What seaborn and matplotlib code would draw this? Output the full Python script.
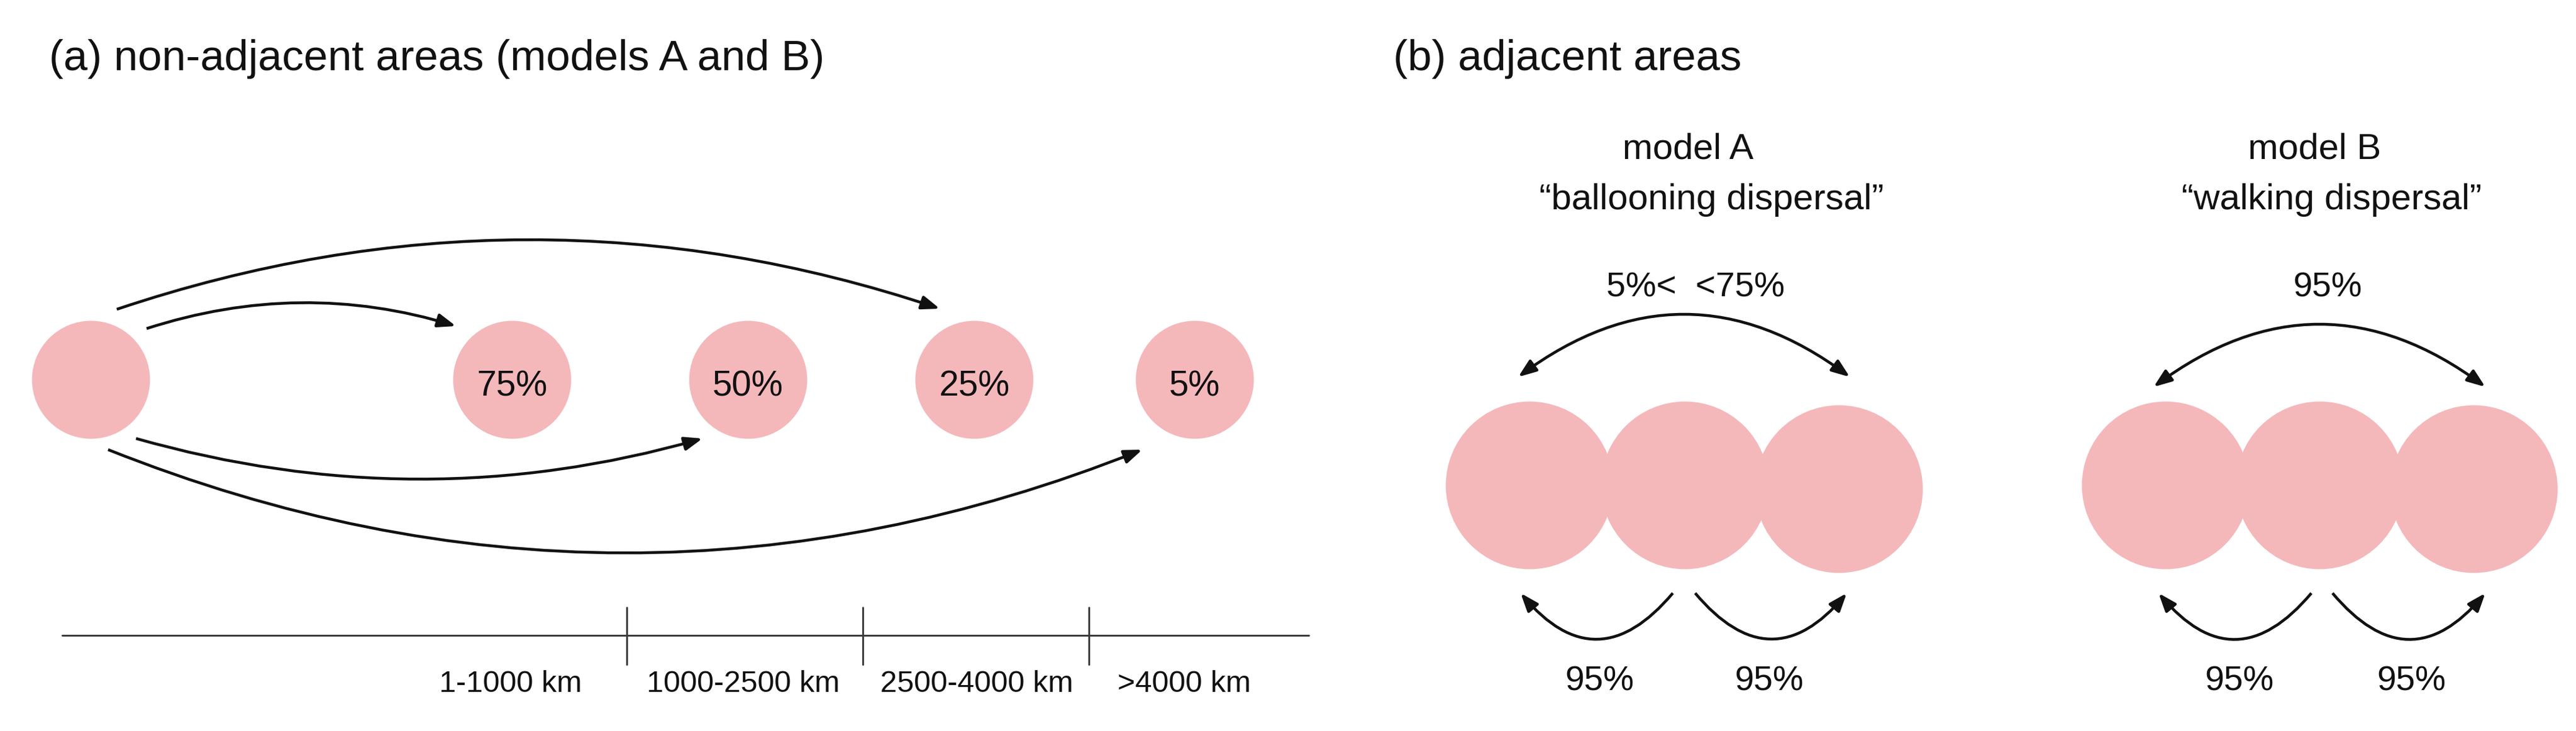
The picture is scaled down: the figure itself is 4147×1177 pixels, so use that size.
import numpy as np
import pandas as pd
import matplotlib
matplotlib.use("Agg")
import matplotlib.pyplot as plt
import seaborn as sns
from matplotlib.patches import FancyArrowPatch, ArrowStyle

# ---------------- data ----------------
panel_titles = ["(a) non-adjacent areas (models A and B)", "(b) adjacent areas"]
dispersal_pct = ["75%", "50%", "25%", "5%"]
distance_classes = ["1-1000 km", "1000-2500 km", "2500-4000 km", ">4000 km"]
model_names = ["model A", "model B"]
model_desc = ["\u201cballooning dispersal\u201d", "\u201cwalking dispersal\u201d"]
long_jump_pct = ["5%<  <75%", "95%"]
neighbour_pct = ["95%", "95%"]

sns.set_theme(style="white")
plt.rcParams['font.family'] = ['Liberation Sans', 'DejaVu Sans']

W, H = 4147, 1177
DPI = 100
fig = plt.figure(figsize=(W / DPI, H / DPI), dpi=DPI)
ax = fig.add_axes([0, 0, 1, 1])
ax.set_xlim(0, W)
ax.set_ylim(H, 0)
ax.axis("off")

PINK = "#F4B8BB"
INK = "#111111"
AXC = "#3a3a3a"

# ---------------- panel (a) ----------------
src_x, row_y = 146, 611
target_x = [824, 1204, 1568, 1923]
small_d_pt = 190 * 72 / DPI
df_a = pd.DataFrame({"x": [src_x] + target_x, "y": [row_y] * (1 + len(dispersal_pct)),
                     "label": [""] + dispersal_pct})
sns.scatterplot(data=df_a, x="x", y="y", s=small_d_pt ** 2, color=PINK,
                linewidth=0, ax=ax, zorder=1, legend=False)
for xx, lab in zip(target_x, dispersal_pct):
    ax.text(xx, row_y + 26, lab, ha="center", va="baseline", fontsize=41, color=INK)

# arrows from source
arrow_style = ArrowStyle("-|>", head_length=0.8, head_width=0.3)
def arrow(p0, p1, rad, style=arrow_style):
    a = FancyArrowPatch(p0, p1, connectionstyle=f"arc3,rad={rad}", arrowstyle=style,
                        mutation_scale=22, lw=3.3, color=INK, shrinkA=0, shrinkB=0,
                        zorder=3, capstyle="butt")
    ax.add_patch(a)

arrow((188, 498), (1513, 497), -0.1675)
arrow((236, 529), (734, 525), -0.157)
arrow((219, 706), (1131, 706), 0.1425)
arrow((174, 724), (1839, 724), 0.199)

# distance axis
axis_y = 1023
ax.plot([100, 2107], [axis_y, axis_y], color=AXC, lw=2.1, zorder=2)
for tx in [1009, 1389, 1753]:
    ax.plot([tx, tx], [978, 1070], color=AXC, lw=2.1, zorder=2)
for cx, lab in zip([822, 1196, 1572, 1906], distance_classes):
    ax.text(cx, 1114, lab, ha="center", va="baseline", fontsize=35, color=INK)

# titles
ax.text(79, 113, panel_titles[0], ha="left", va="baseline", fontsize=50, color=INK)
ax.text(2243, 113, panel_titles[1], ha="left", va="baseline", fontsize=50, color=INK)

# ---------------- panel (b) ----------------
big_d_pt = 270 * 72 / DPI
groups = [
    dict(cx=[2462, 2712, 2960], cy=[781, 781, 787], title_x=2717, desc_x=2755,
         top=((2444, 607), (2978, 607)), top_lab_x=2730, top_lab_y=477,
         left=((2693, 955), (2448, 955)), right=((2729, 955), (2973, 955)),
         bot_x=[2575, 2848]),
    dict(cx=[3486, 3734, 3982], cy=[781, 781, 787], title_x=3726, desc_x=3754,
         top=((3467, 623), (4001, 623)), top_lab_x=3747, top_lab_y=477,
         left=((3721, 955), (3475, 955)), right=((3755, 955), (4001, 955)),
         bot_x=[3605, 3882]),
]
dbl_style = ArrowStyle("<|-|>", head_length=0.8, head_width=0.3)
for i, g in enumerate(groups):
    df_b = pd.DataFrame({"x": g["cx"], "y": g["cy"]})
    sns.scatterplot(data=df_b, x="x", y="y", s=big_d_pt ** 2, color=PINK,
                    linewidth=0, ax=ax, zorder=1, legend=False)
    ax.text(g["title_x"], 255, model_names[i], ha="center", va="baseline", fontsize=42, color=INK)
    ax.text(g["desc_x"], 337, model_desc[i], ha="center", va="baseline", fontsize=42, color=INK)
    ax.text(g["top_lab_x"], g["top_lab_y"], long_jump_pct[i], ha="center", va="baseline",
            fontsize=40, color=INK)
    arrow(g["top"][0], g["top"][1], -0.371, style=dbl_style)
    arrow(g["left"][0], g["left"][1], -0.596)
    arrow(g["right"][0], g["right"][1], 0.596)
    for bx, lab in zip(g["bot_x"], neighbour_pct):
        ax.text(bx, 1112, lab, ha="center", va="baseline", fontsize=40, color=INK)

ax.set_xlim(0, W)
ax.set_ylim(H, 0)
fig.savefig("out.png", dpi=DPI, facecolor="white")
